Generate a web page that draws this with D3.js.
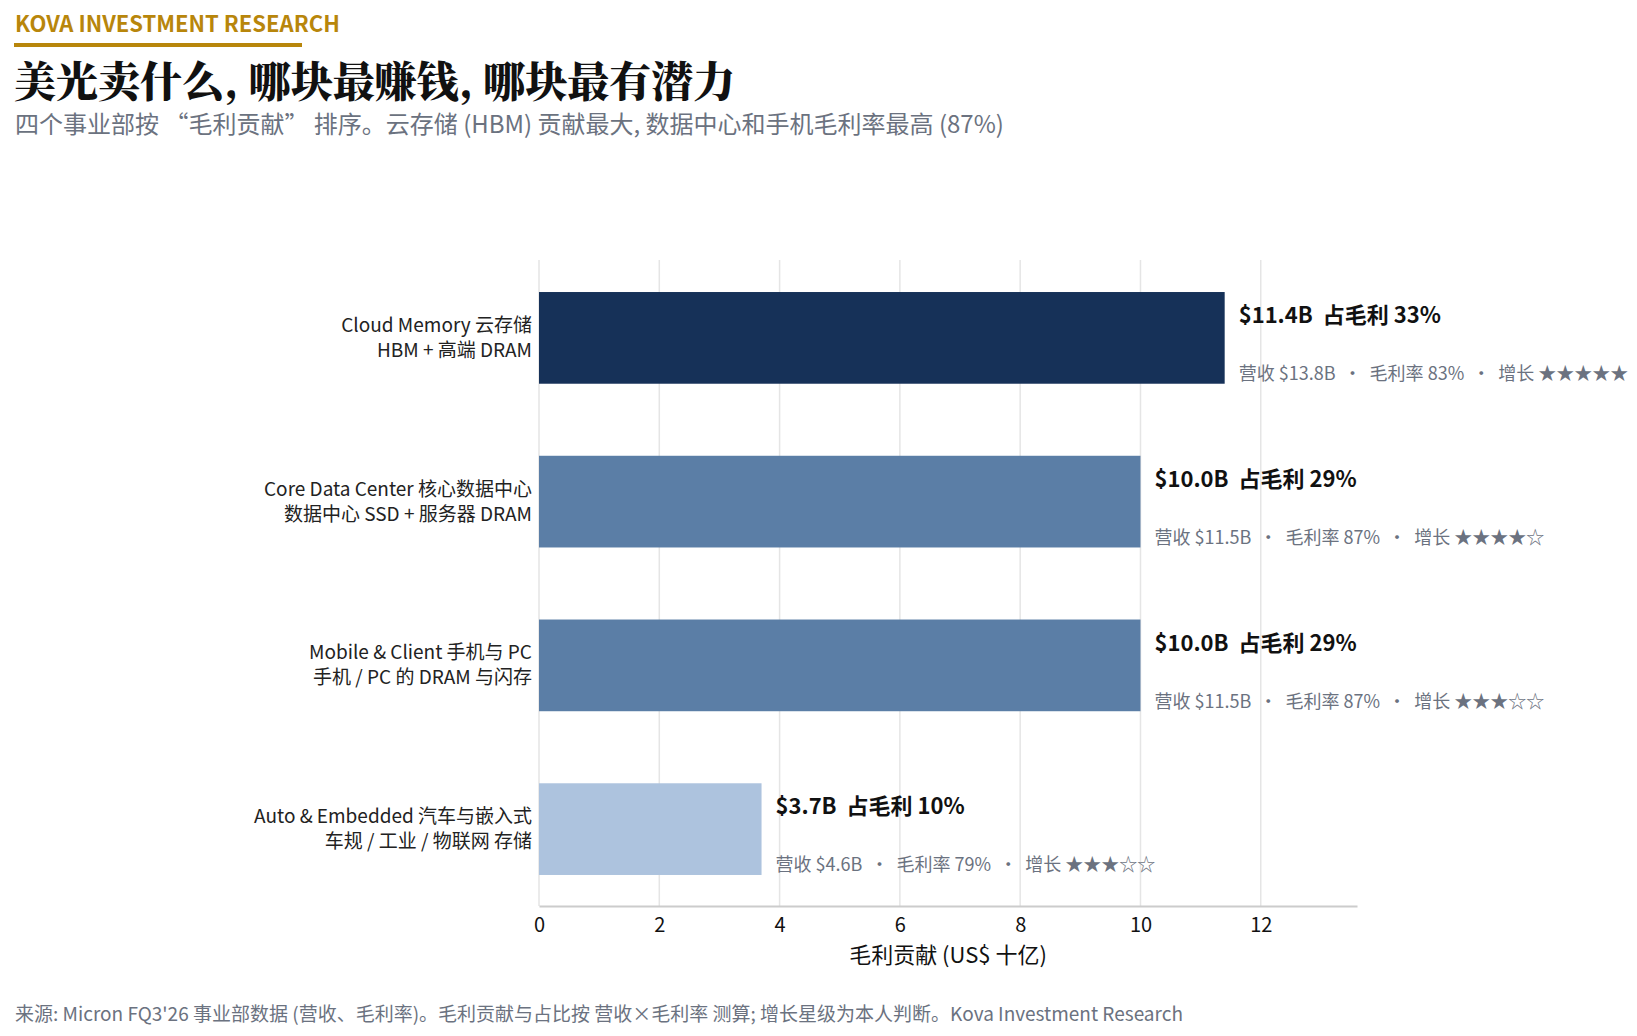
<html>
<head>
<meta charset="utf-8">
<script src="https://cdn.jsdelivr.net/npm/d3@7"></script>
<style>
  body { margin:0; background:#fff; font-family:"Source Sans Pro","Noto Sans","Noto Sans CJK SC",sans-serif; }
</style>
</head>
<body>
<div id="chart"></div>
<script>
var names = ["Cloud Memory 云存储", "Core Data Center 核心数据中心", "Mobile & Client 手机与 PC", "Auto & Embedded 汽车与嵌入式"];
var subNames = ["HBM + 高端 DRAM", "数据中心 SSD + 服务器 DRAM", "手机 / PC 的 DRAM 与闪存", "车规 / 工业 / 物联网 存储"];
var gross = [11.4, 10.0, 10.0, 3.7];
var share = [33, 29, 29, 10];
var revenue = [13.8, 11.5, 11.5, 4.6];
var margin = [83, 87, 87, 79];
var stars = [5, 4, 3, 3];
var colors = ["#163158", "#5b7ea6", "#5b7ea6", "#adc3de"];
var ticks = [0, 2, 4, 6, 8, 10, 12];

var W = 1637, H = 1036;
var font = '"Noto Sans CJK SC","Noto Sans",sans-serif';
var svg = d3.select("#chart").append("svg").attr("width", W).attr("height", H)
  .style("font-family", font);

// header
svg.append("text").attr("x", 15).attr("y", 32).text("KOVA INVESTMENT RESEARCH")
  .attr("font-size", 22).attr("font-weight", 700).attr("fill", "#b8860b");
svg.append("rect").attr("x", 14).attr("y", 43).attr("width", 288).attr("height", 4).attr("fill", "#b8860b");
svg.append("text").attr("x", 14).attr("y", 97).text("美光卖什么, 哪块最赚钱, 哪块最有潜力")
  .attr("font-size", 42).attr("font-weight", 900).attr("fill", "#111")
  .style("font-family", '"Noto Serif CJK SC","Noto Sans CJK SC",serif');
svg.append("text").attr("x", 15).attr("y", 133).text("四个事业部按 “毛利贡献” 排序。云存储 (HBM) 贡献最大, 数据中心和手机毛利率最高 (87%)")
  .attr("font-size", 24).attr("fill", "#6b7280");

var x = d3.scaleLinear().domain([0, 13.6]).range([539, 1357]);
var y = d3.scaleBand().domain(names).range([256, 911]).paddingInner(0.44).paddingOuter(0.22);
var axisY = 906;

// grid
svg.append("g").selectAll("line").data(ticks).join("line")
  .attr("x1", d => x(d)).attr("x2", d => x(d)).attr("y1", 260).attr("y2", axisY)
  .attr("stroke", "#e5e5e5").attr("stroke-width", 1.5);

// bars
svg.append("g").selectAll("rect").data(names).join("rect")
  .attr("x", x(0)).attr("y", d => y(d))
  .attr("width", (d, i) => x(gross[i]) - x(0)).attr("height", y.bandwidth())
  .attr("fill", (d, i) => colors[i]);

// axis
var ax = svg.append("g").attr("transform", "translate(0," + axisY + ")")
  .call(d3.axisBottom(x).tickValues(ticks).tickSize(0).tickPadding(12));
ax.select(".domain").attr("stroke", "#ccc").attr("stroke-width", 2);
ax.selectAll("text").attr("font-size", 20).attr("fill", "#111").style("font-family", font);
svg.append("text").attr("x", x(6.8)).attr("y", 963).attr("text-anchor", "middle")
  .text("毛利贡献 (US$ 十亿)").attr("font-size", 22).attr("fill", "#111");

// category labels
var lab = svg.append("g").selectAll("g").data(names).join("g");
lab.append("text").attr("x", 532).attr("y", (d, i) => y(d) + y.bandwidth() / 2 - 6)
  .attr("text-anchor", "end").text(d => d).attr("font-size", 19).attr("fill", "#222");
lab.append("text").attr("x", 532).attr("y", (d, i) => y(d) + y.bandwidth() / 2 + 19)
  .attr("text-anchor", "end").text((d, i) => subNames[i]).attr("font-size", 19).attr("fill", "#222");

// value labels
function starStr(n) { return "★★★★★".slice(0, n) + "☆☆☆☆☆".slice(0, 5 - n); }
var vl = svg.append("g").selectAll("g").data(names).join("g");
vl.append("text").attr("x", (d, i) => x(gross[i]) + 14).attr("y", d => y(d) + 31)
  .text((d, i) => "$" + gross[i].toFixed(1) + "B  占毛利 " + share[i] + "%")
  .attr("font-size", 22).attr("font-weight", 700).attr("fill", "#111").style("white-space", "pre")
  .attr("xml:space", "preserve");
vl.append("text").attr("x", (d, i) => x(gross[i]) + 14).attr("y", d => y(d) + 88)
  .text((d, i) => "营收 $" + revenue[i].toFixed(1) + "B  ·  毛利率 " + margin[i] + "%  ·  增长 " + starStr(stars[i]))
  .attr("font-size", 18).attr("fill", "#6b7280").attr("xml:space", "preserve");

// footer
svg.append("text").attr("x", 15).attr("y", 1021)
  .text("来源: Micron FQ3'26 事业部数据 (营收、毛利率)。毛利贡献与占比按 营收×毛利率 测算; 增长星级为本人判断。Kova Investment Research")
  .attr("font-size", 19).attr("fill", "#6b7280");
</script>
</body>
</html>
